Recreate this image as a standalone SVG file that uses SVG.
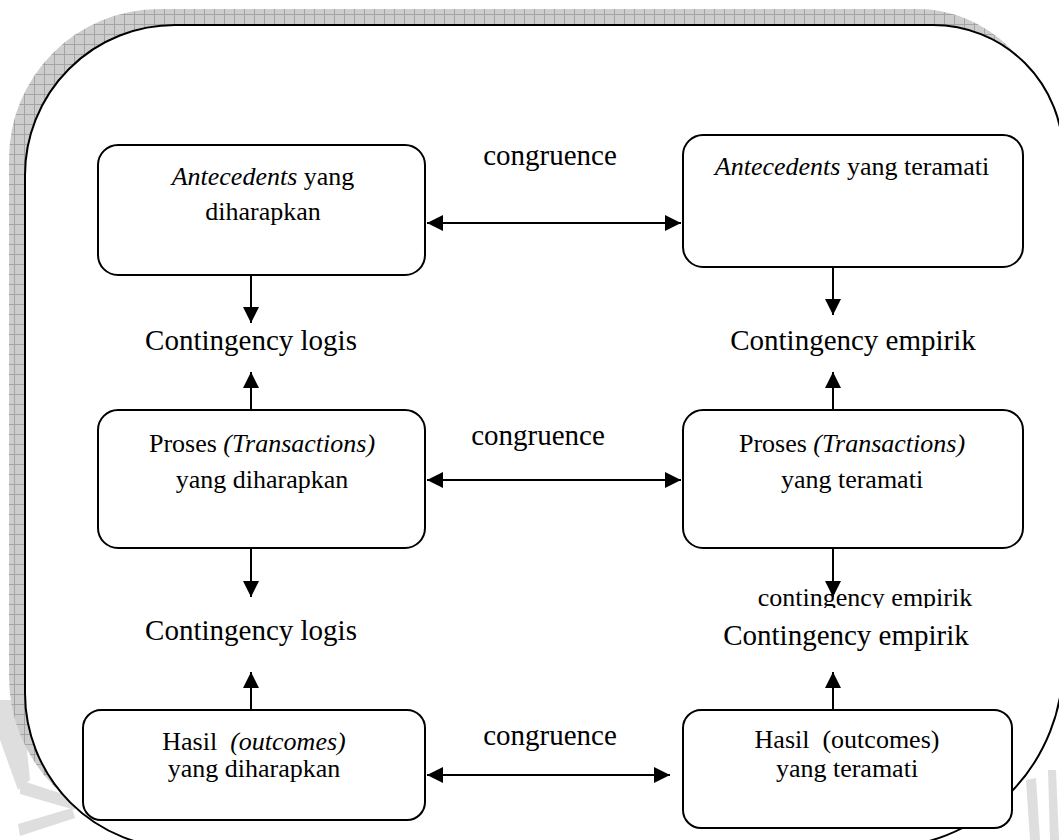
<svg xmlns="http://www.w3.org/2000/svg" width="1059" height="840" viewBox="0 0 1059 840">
<style>
.box{fill:#fff;stroke:#000;stroke-width:2}
.t{font-family:"Liberation Serif","Times New Roman",serif;font-size:26px;fill:#000;text-anchor:middle}
.lbl{font-family:"Liberation Serif","Times New Roman",serif;font-size:29px;fill:#000;text-anchor:middle}
.i{font-style:italic}
.c{stroke:#000;stroke-width:2;fill:none}
.wm{fill:#dedede}
</style>
<defs>
<pattern id="grid" width="10" height="10" patternUnits="userSpaceOnUse">
<rect width="10" height="10" fill="#cdcdcd"/>
<path d="M0 0.5H10M0.5 0V10" stroke="#a4a4a4" stroke-width="1"/>
</pattern>
<marker id="ae" markerWidth="16" markerHeight="16" refX="16" refY="8" orient="auto" markerUnits="userSpaceOnUse">
<path d="M0 0L16 8L0 16Z" fill="#000"/>
</marker>
<marker id="as" markerWidth="16" markerHeight="16" refX="0" refY="8" orient="auto" markerUnits="userSpaceOnUse">
<path d="M16 0L0 8L16 16Z" fill="#000"/>
</marker>
<clipPath id="clipSmall"><rect x="700" y="580" width="330" height="28"/></clipPath>
</defs>
<g id="watermark">
<polygon class="wm" points="0,700 22,700 30,780 18,790 0,740"/>
<polygon class="wm" points="20,780 75,798 75,810 20,794"/>
<polygon class="wm" points="18,824 72,808 75,818 20,836"/>
<polygon class="wm" points="1026,780 1036,778 1040,840 1030,840"/>
<polygon class="wm" points="1048,770 1056,770 1059,840 1050,840"/>
</g>
<g id="frame">
<path transform="translate(-16,-16)" d="M175,25H933A130,130 0 0 1 1063,155V664A184,184 0 0 1 879,848H180A155,155 0 0 1 25,693V175A150,150 0 0 1 175,25Z" fill="url(#grid)"/>
<path d="M175,25H933A130,130 0 0 1 1063,155V664A184,184 0 0 1 879,848H180A155,155 0 0 1 25,693V175A150,150 0 0 1 175,25Z" fill="#fff" stroke="#000" stroke-width="2"/>
</g>
<g id="connectors">
<line class="c" x1="427" y1="223" x2="681" y2="223" marker-start="url(#as)" marker-end="url(#ae)"/>
<line class="c" x1="427" y1="480" x2="681" y2="480" marker-start="url(#as)" marker-end="url(#ae)"/>
<line class="c" x1="427" y1="775" x2="670" y2="775" marker-start="url(#as)" marker-end="url(#ae)"/>
<line class="c" x1="251" y1="275" x2="251" y2="323" marker-end="url(#ae)"/>
<line class="c" x1="251" y1="410" x2="251" y2="372" marker-end="url(#ae)"/>
<line class="c" x1="251" y1="548" x2="251" y2="597" marker-end="url(#ae)"/>
<line class="c" x1="251" y1="710" x2="251" y2="672" marker-end="url(#ae)"/>
<line class="c" x1="833" y1="267" x2="833" y2="315" marker-end="url(#ae)"/>
<line class="c" x1="833" y1="410" x2="833" y2="372" marker-end="url(#ae)"/>
<line class="c" x1="833" y1="548" x2="833" y2="597" marker-end="url(#ae)"/>
<line class="c" x1="833" y1="710" x2="833" y2="672" marker-end="url(#ae)"/>
<text class="lbl" x="550" y="165">congruence</text>
<text class="lbl" x="538" y="445">congruence</text>
<text class="lbl" x="550" y="745">congruence</text>
<text class="lbl" x="251" y="350">Contingency logis</text>
<text class="lbl" x="251" y="640">Contingency logis</text>
<text class="lbl" x="853" y="350">Contingency empirik</text>
<text class="t" x="865" y="606" clip-path="url(#clipSmall)">contingency empirik</text>
<text class="lbl" x="846" y="645">Contingency empirik</text>
</g>
<g id="n1">
<rect class="box" x="98" y="145" width="327" height="130" rx="20"/>
<text class="t" x="263" y="185"><tspan class="i">Antecedents</tspan> yang</text>
<text class="t" x="263" y="220">diharapkan</text>
</g>
<g id="n2">
<rect class="box" x="683" y="135" width="340" height="132" rx="20"/>
<text class="t" x="852" y="175"><tspan class="i">Antecedents</tspan> yang teramati</text>
</g>
<g id="n3">
<rect class="box" x="98" y="410" width="327" height="138" rx="20"/>
<text class="t" x="262" y="452">Proses <tspan class="i">(Transactions)</tspan></text>
<text class="t" x="262" y="488">yang diharapkan</text>
</g>
<g id="n4">
<rect class="box" x="683" y="410" width="340" height="138" rx="20"/>
<text class="t" x="852" y="452">Proses <tspan class="i">(Transactions)</tspan></text>
<text class="t" x="852" y="488">yang teramati</text>
</g>
<g id="n5">
<rect class="box" x="83" y="710" width="342" height="110" rx="18"/>
<text class="t" x="254" y="750" xml:space="preserve">Hasil  <tspan class="i">(outcomes)</tspan></text>
<text class="t" x="254" y="777">yang diharapkan</text>
</g>
<g id="n6">
<rect class="box" x="683" y="710" width="329" height="118" rx="18"/>
<text class="t" x="847" y="748" xml:space="preserve">Hasil  (outcomes)</text>
<text class="t" x="847" y="777">yang teramati</text>
</g>
</svg>
